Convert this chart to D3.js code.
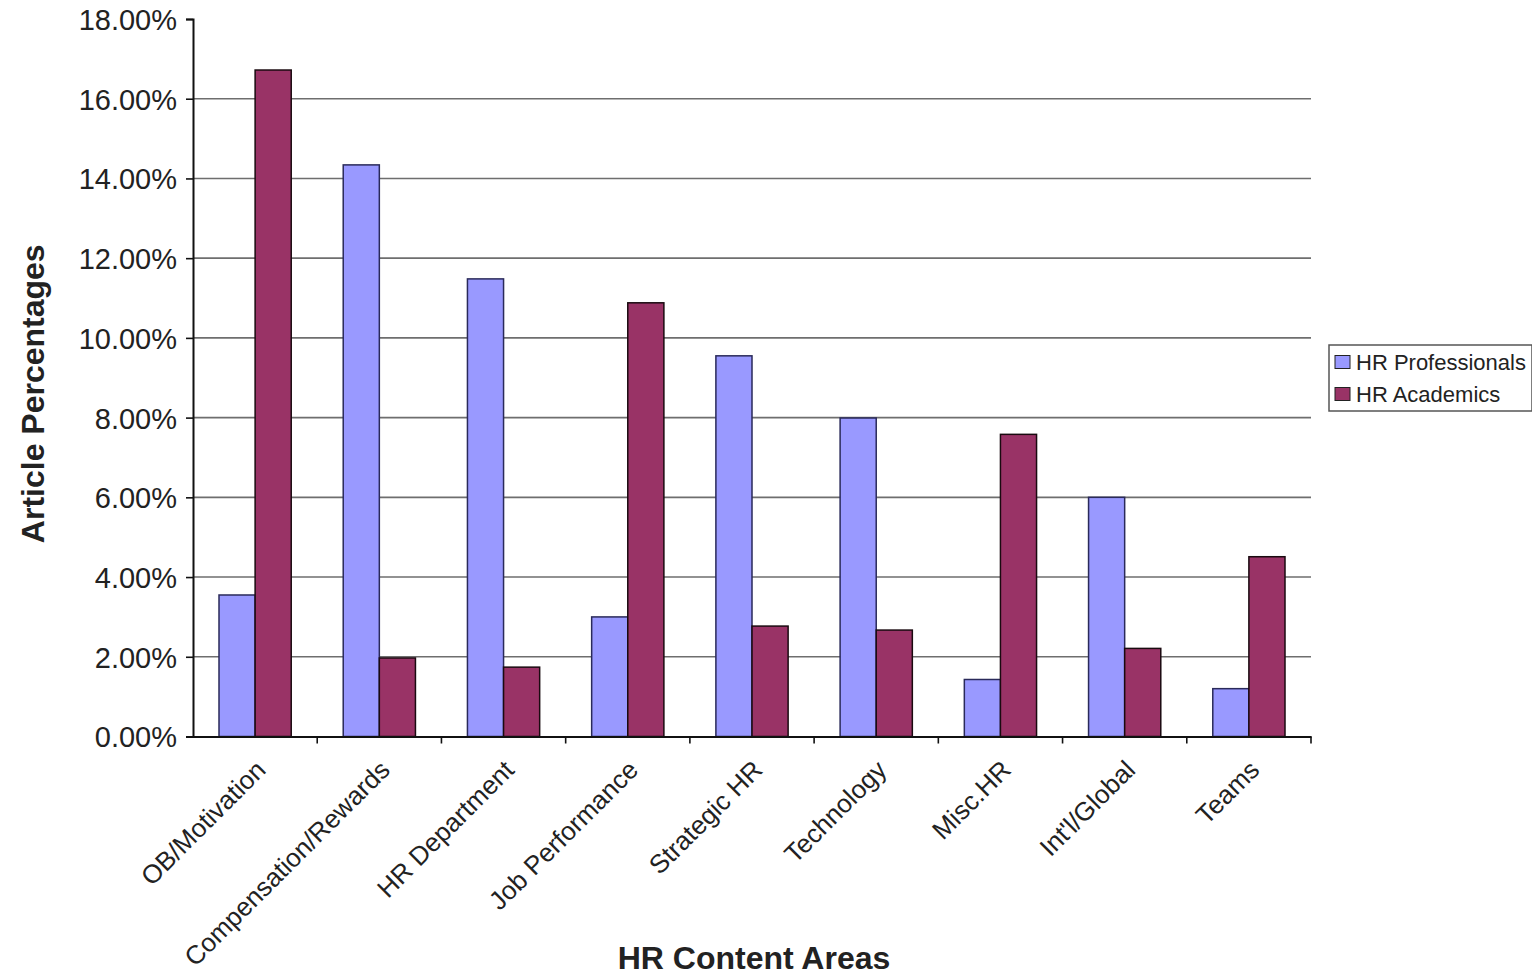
<!DOCTYPE html>
<html>
<head>
<meta charset="utf-8">
<script src="https://cdn.jsdelivr.net/npm/d3@7"></script>
<style>
  body { margin: 0; background: #fff; }
  text { font-family: "Liberation Sans", Arial, sans-serif; fill: #222; }
</style>
</head>
<body>
<div id="chart"></div>
<script>
// chart data
const categories = ["OB/Motivation", "Compensation/Rewards", "HR Department", "Job Performance",
    "Strategic HR", "Technology", "Misc.HR", "Int'l/Global", "Teams"];
const seriesNames = ["HR Professionals", "HR Academics"];
const professionals = [3.55, 14.34, 11.48, 3.0, 9.55, 7.99, 1.43, 6.0, 1.2];
const academics = [16.72, 1.97, 1.74, 10.88, 2.77, 2.67, 7.58, 2.21, 4.51];
const yTicks = [0, 2, 4, 6, 8, 10, 12, 14, 16, 18];
const colors = ["#9999ff", "#993366"];

const W = 1532, H = 976;
const margin = {top: 19, right: 221, bottom: 239.5, left: 193};
const width = W - margin.left - margin.right;
const height = H - margin.top - margin.bottom;

const svg = d3.select("#chart").append("svg")
    .attr("width", W)
    .attr("height", H);

const g = svg.append("g")
    .attr("transform", "translate(" + margin.left + "," + margin.top + ")");

const x = d3.scaleBand().domain(categories).range([0, width]);
const xInner = d3.scaleBand().domain(seriesNames).range([0, x.bandwidth()]).paddingOuter(0.72).paddingInner(0);
const y = d3.scaleLinear().domain([0, 18]).range([height, 0]);

// gridlines
g.selectAll(".grid")
    .data(yTicks.filter(d => d > 0 && d < 18))
    .enter().append("line")
    .attr("x1", 0).attr("x2", width)
    .attr("y1", d => y(d)).attr("y2", d => y(d))
    .attr("stroke", "#6e6e6e").attr("stroke-width", 1.6);

// bars
const data = categories.map((c, i) => ({cat: c, vals: [professionals[i], academics[i]]}));
const groups = g.selectAll(".grp").data(data).enter().append("g")
    .attr("transform", d => "translate(" + x(d.cat) + ",0)");
groups.selectAll("rect")
    .data(d => d.vals.map((v, j) => ({v: v, s: seriesNames[j], j: j})))
    .enter().append("rect")
    .attr("x", d => xInner(d.s))
    .attr("width", xInner.bandwidth())
    .attr("y", d => y(d.v))
    .attr("height", d => height - y(d.v))
    .attr("fill", d => colors[d.j])
    .attr("stroke", d => d.j === 0 ? "#2a2a5a" : "#1a0a10")
    .attr("stroke-width", 1.5);

// y axis
const yAxis = g.append("g")
    .call(d3.axisLeft(y).tickValues(yTicks).tickSize(7).tickPadding(9)
        .tickFormat(d => d.toFixed(2) + "%"));
yAxis.select(".domain").attr("stroke", "#111").attr("stroke-width", 2);
yAxis.selectAll(".tick line").attr("stroke", "#111").attr("stroke-width", 1.6);
yAxis.selectAll("text").style("font-size", "29px").attr("fill", "#222").attr("dy", "0.36em");

// x axis
const xAxis = g.append("g")
    .attr("transform", "translate(0," + height + ")")
    .call(d3.axisBottom(x).tickSize(0).tickFormat(""));
xAxis.select(".domain").attr("stroke", "#111").attr("stroke-width", 2);
xAxis.selectAll(".bt")
    .data(d3.range(1, categories.length + 1))
    .enter().append("line")
    .attr("x1", i => i * x.step()).attr("x2", i => i * x.step())
    .attr("y1", 0).attr("y2", 7)
    .attr("stroke", "#111").attr("stroke-width", 1.6);

// category labels
g.selectAll(".cat")
    .data(categories)
    .enter().append("text")
    .attr("transform", d => "translate(" + (x(d) + x.bandwidth() / 2 - 1) + "," + (height + 22) + ") rotate(-45)")
    .attr("text-anchor", "end")
    .attr("dy", "0.71em")
    .style("font-size", "26px")
    .text(d => d);

// axis titles
svg.append("text")
    .attr("transform", "translate(44," + (margin.top + height / 2 + 16) + ") rotate(-90)")
    .attr("text-anchor", "middle")
    .style("font-size", "32px").style("font-weight", "bold")
    .text("Article Percentages");

svg.append("text")
    .attr("x", 754).attr("y", 969)
    .attr("text-anchor", "middle")
    .style("font-size", "32px").style("font-weight", "bold")
    .text("HR Content Areas");

// legend
const legend = svg.append("g").attr("transform", "translate(1329,345)");
legend.append("rect")
    .attr("width", 203).attr("height", 66)
    .attr("fill", "#fff").attr("stroke", "#555").attr("stroke-width", 1.5);
const items = legend.selectAll(".li").data(seriesNames).enter().append("g")
    .attr("transform", (d, i) => "translate(6," + (17 + i * 32) + ")");
items.append("rect")
    .attr("x", 0).attr("y", -6.5).attr("width", 15).attr("height", 13)
    .attr("fill", (d, i) => colors[i]).attr("stroke", "#222").attr("stroke-width", 1);
items.append("text")
    .attr("x", 21).attr("dy", "0.36em")
    .style("font-size", "22px")
    .text(d => d);
</script>
</body>
</html>
